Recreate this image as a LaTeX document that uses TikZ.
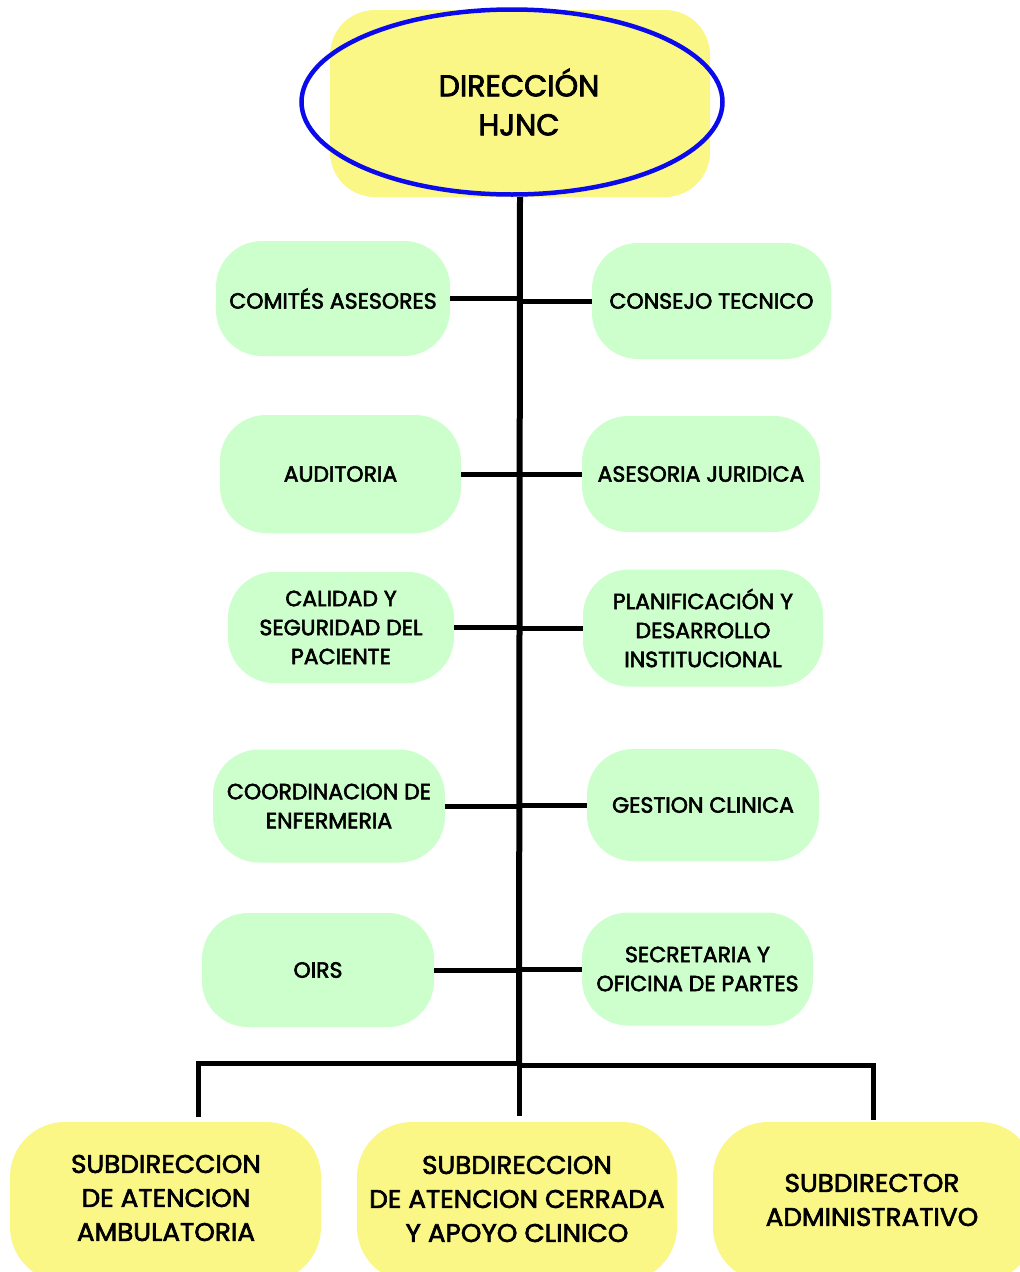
\documentclass[tikz,border=0pt]{standalone}
\usepackage{fontspec}
\setmainfont{Poppins}[FakeBold=2.5]
\newfontfamily\subfont{Poppins}[FakeBold=2.5, FakeStretch=1.03]
\usetikzlibrary{shapes.geometric}
\definecolor{boxgreen}{RGB}{204,255,204}
\definecolor{boxyellow}{RGB}{250,247,135}
\definecolor{ringblue}{RGB}{10,10,235}
\begin{document}
\begin{tikzpicture}[x=1pt,y=-1pt,
  greenbox/.style={fill=boxgreen, rounded corners=46pt, minimum width=234pt, minimum height=115pt, align=center, font=\fontsize{22}{29}\selectfont, inner sep=0pt},
  yellowbox/.style={fill=boxyellow, rounded corners=55pt, minimum width=312pt, minimum height=160pt, inner sep=0pt},
  subtext/.style={align=center, font=\subfont\fontsize{25.5}{34}\selectfont, inner sep=0pt},
  conn/.style={line width=5pt, black},
  trunk/.style={line width=6pt, black}]
\clip (0,0) rectangle (1020,1272);
\fill[white] (0,0) rectangle (1020,1272);
% top
\node[fill=boxyellow, rounded corners=45pt, minimum width=380pt, minimum height=187pt, inner sep=0pt] (dirbox) at (520,103.5) {};
\node[draw=ringblue, line width=4.5pt, ellipse, minimum width=421pt, minimum height=185pt, inner sep=0pt] (ring) at (512,102) {};
\node[align=center, font=\fontsize{30}{39}\selectfont, inner sep=0pt] (dir) at (519,102) {DIRECCIÓN\\HJNC};
% green boxes
\node[greenbox] (comites) at (333,298.5) {COMITÉS ASESORES};
\node[greenbox, minimum width=239pt, minimum height=116pt] (consejo) at (711.5,301) {CONSEJO TECNICO};
\node[greenbox, minimum width=241pt, minimum height=118pt] (auditoria) at (340.5,474) {AUDITORIA};
\node[greenbox, minimum width=238pt, minimum height=116pt] (asesoria) at (701,474) {ASESORIA JURIDICA};
\node[greenbox, minimum width=226pt, minimum height=111pt] (calidad) at (341,627.5) {CALIDAD Y\\SEGURIDAD DEL\\PACIENTE};
\node[greenbox, minimum width=240pt, minimum height=117pt] (planif) at (703,628) {PLANIFICACIÓN Y\\DESARROLLO\\INSTITUCIONAL};
\node[greenbox, minimum width=232pt, minimum height=113pt] (coord) at (329,806) {COORDINACION DE\\ENFERMERIA};
\node[greenbox, minimum width=232pt, minimum height=112pt] (gestion) at (703,805) {GESTION CLINICA};
\node[greenbox, minimum width=232pt, minimum height=114pt] (oirs) at (318,970) {OIRS};
\node[greenbox, minimum width=231pt, minimum height=113pt] (secre) at (697.5,969) {SECRETARIA Y\\OFICINA DE PARTES};
% bottom boxes
\node[yellowbox, minimum width=311pt] (s1box) at (165.5,1202) {};
\node[yellowbox, minimum width=320pt] (s2box) at (517,1202) {};
\node[yellowbox, minimum width=322pt] (s3box) at (874,1202) {};
\node[subtext] (s1) at (166,1198) {SUBDIRECCION\\DE ATENCION\\AMBULATORIA};
\node[subtext] (s2) at (517,1199) {SUBDIRECCION\\DE ATENCION CERRADA\\Y APOYO CLINICO};
\node[subtext] (s3) at (872,1200) {SUBDIRECTOR\\ADMINISTRATIVO};
% connectors
\coordinate (j) at (519,1063);
\coordinate (jr) at (519,1065);
\coordinate (b1) at (198,1117);
\coordinate (b2) at (519,1116);
\coordinate (b3) at (873,1120);
\draw[trunk] (dirbox.south) -- (j);
\foreach \l/\r in {comites/consejo, auditoria/asesoria, calidad/planif, coord/gestion, oirs/secre}{
  \draw[conn] (\l.east) -- (\l.east -| j);
  \draw[conn] (\r.west -| j) -- (\r.west);
}
\draw[conn] (b1) |- (j);
\draw[conn] (jr) -| (b3);
\draw[conn] (j) -- (b2);
\end{tikzpicture}
\end{document}
